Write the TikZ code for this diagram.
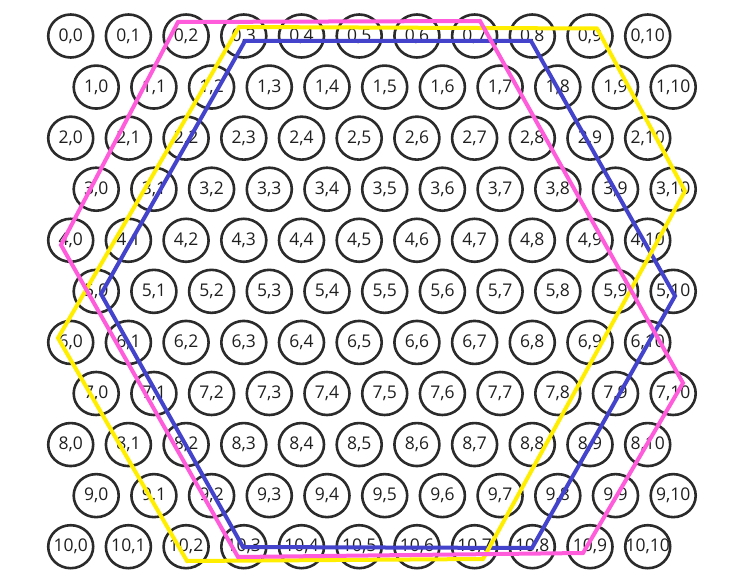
\documentclass[tikz,border=0pt]{standalone}
\usepackage{fontspec}
\setmainfont{Open Sans}
\usetikzlibrary{shapes.geometric}
\definecolor{ringc}{HTML}{2B2B2B}
\definecolor{hpink}{HTML}{FF5CDC}
\definecolor{hblue}{HTML}{4343CC}
\definecolor{hyellow}{HTML}{FFEE00}
\begin{document}
\begin{tikzpicture}[x=1pt,y=-1pt,
  cell/.style={ellipse, draw=ringc, line width=2.6pt, minimum width=45pt, minimum height=43pt, inner sep=0pt, font=\fontsize{17.5}{20}\selectfont, text=black!88},
  hexa/.style={line width=4pt, line join=miter}]
\useasboundingbox (0,0) rectangle (738,583);
\foreach \r in {0,...,10} {
  \foreach \c in {0,...,10} {
    \pgfmathsetmacro\xx{70.7+57.7*\c+25.5*mod(\r,2)}
    \pgfmathsetmacro\yy{36+51.07*\r}
    \node[cell] (n-\r-\c) at (\xx,\yy) {\makebox[0pt]{\r,\c}};
  }
}
% blue hexagon
\coordinate (b1) at (245,41);
\coordinate (b2) at (531,41);
\coordinate (b3) at (675,296);
\coordinate (b4) at (532,548);
\coordinate (b5) at (243,547);
\coordinate (b6) at (101,294);
\draw[hexa, hblue] (b1) -- (b2) -- (b3) -- (b4) -- (b5) -- (b6) -- cycle;
% yellow hexagon
\coordinate (y1) at (239,27);
\coordinate (y2) at (597,28.5);
\coordinate (y3) at (685,191);
\coordinate (y4) at (483,559);
\coordinate (y5) at (187,561);
\coordinate (y6) at (58,338);
\draw[hexa, hyellow] (y1) -- (y2) -- (y3) -- (y4) -- (y5) -- (y6) -- cycle;
% pink hexagon
\coordinate (p1) at (178,22);
\coordinate (p2) at (480,21);
\coordinate (p3) at (683,383);
\coordinate (p4) at (583,553);
\coordinate (p5) at (238,557);
\coordinate (p6) at (61,245);
\draw[hexa, hpink] (p1) -- (p2) -- (p3) -- (p4) -- (p5) -- (p6) -- cycle;
\end{tikzpicture}
\end{document}
